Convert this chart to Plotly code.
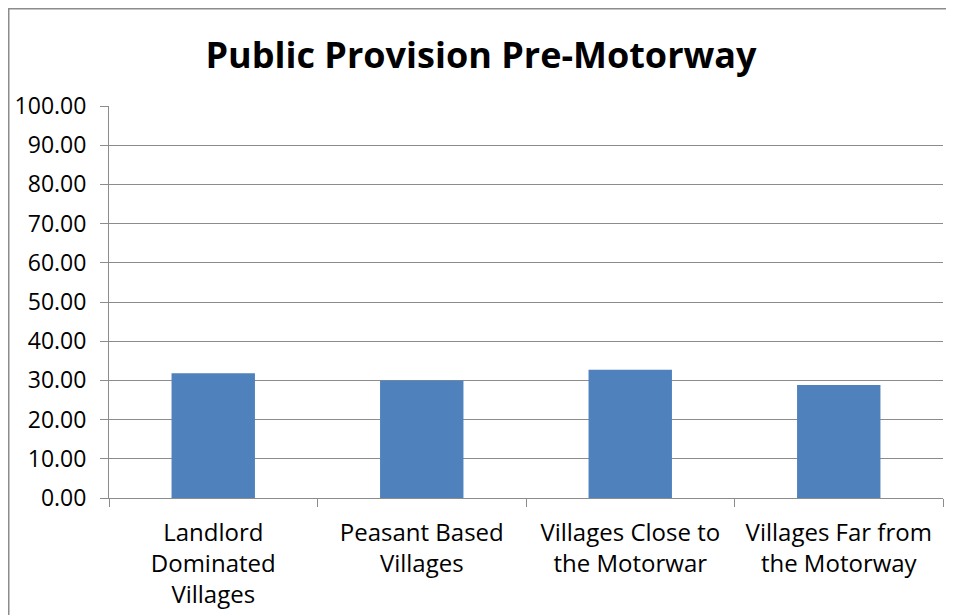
import plotly.graph_objects as go

categories = [
    "Landlord<br>Dominated<br>Villages",
    "Peasant Based<br>Villages",
    "Villages Close to<br>the Motorwar",
    "Villages Far from<br>the Motorway",
]
values = [31.8, 30.0, 32.7, 28.8]
y_ticks = [0, 10, 20, 30, 40, 50, 60, 70, 80, 90, 100]

# page body has an 8px margin, so the figure is drawn 8px smaller
W, H = 946, 607
L, R, T, B = 101, 11, 98, 117
pw, ph = W - L - R, H - T - B

fig = go.Figure()
fig.add_trace(
    go.Bar(
        x=categories,
        y=values,
        marker=dict(color="#4f81bd", line=dict(width=0)),
    )
)

fig.update_layout(
    width=W,
    height=H,
    margin=dict(l=L, r=R, t=T, b=B),
    paper_bgcolor="white",
    plot_bgcolor="white",
    bargap=0.6,
    showlegend=False,
    font=dict(family="Open Sans", color="black", size=23),
    title=dict(
        text="<b>Public Provision Pre-Motorway</b>",
        x=0.5,
        xanchor="center",
        y=1 - 47 / H,
        yanchor="middle",
        font=dict(family="Open Sans", size=36, color="black"),
    ),
)

fig.update_yaxes(
    range=[0, 100],
    tickvals=y_ticks,
    tickformat=".2f",
    showgrid=True,
    gridcolor="#8c8c8c",
    gridwidth=1,
    showline=True,
    linecolor="#8c8c8c",
    linewidth=1,
    ticks="outside",
    ticklen=8,
    tickcolor="#8c8c8c",
    ticklabelstandoff=9,
    zeroline=False,
    automargin=False,
)
fig.update_xaxes(
    showline=True,
    linecolor="#8c8c8c",
    linewidth=1,
    ticks="outside",
    tickson="boundaries",
    ticklen=8,
    tickcolor="#8c8c8c",
    ticklabelstandoff=13,
    tickfont=dict(size=24),
    automargin=False,
)

# outer chart border, cut off on the right and bottom
fig.add_shape(
    type="rect",
    xref="paper",
    yref="paper",
    x0=(0.5 - L) / pw,
    x1=(W + 20 - L) / pw,
    y0=-(H + 20 - T - ph) / ph,
    y1=1 + (T - 0.5) / ph,
    line=dict(color="#8c8c8c", width=2),
    layer="below",
)

fig.write_html("out.html")
